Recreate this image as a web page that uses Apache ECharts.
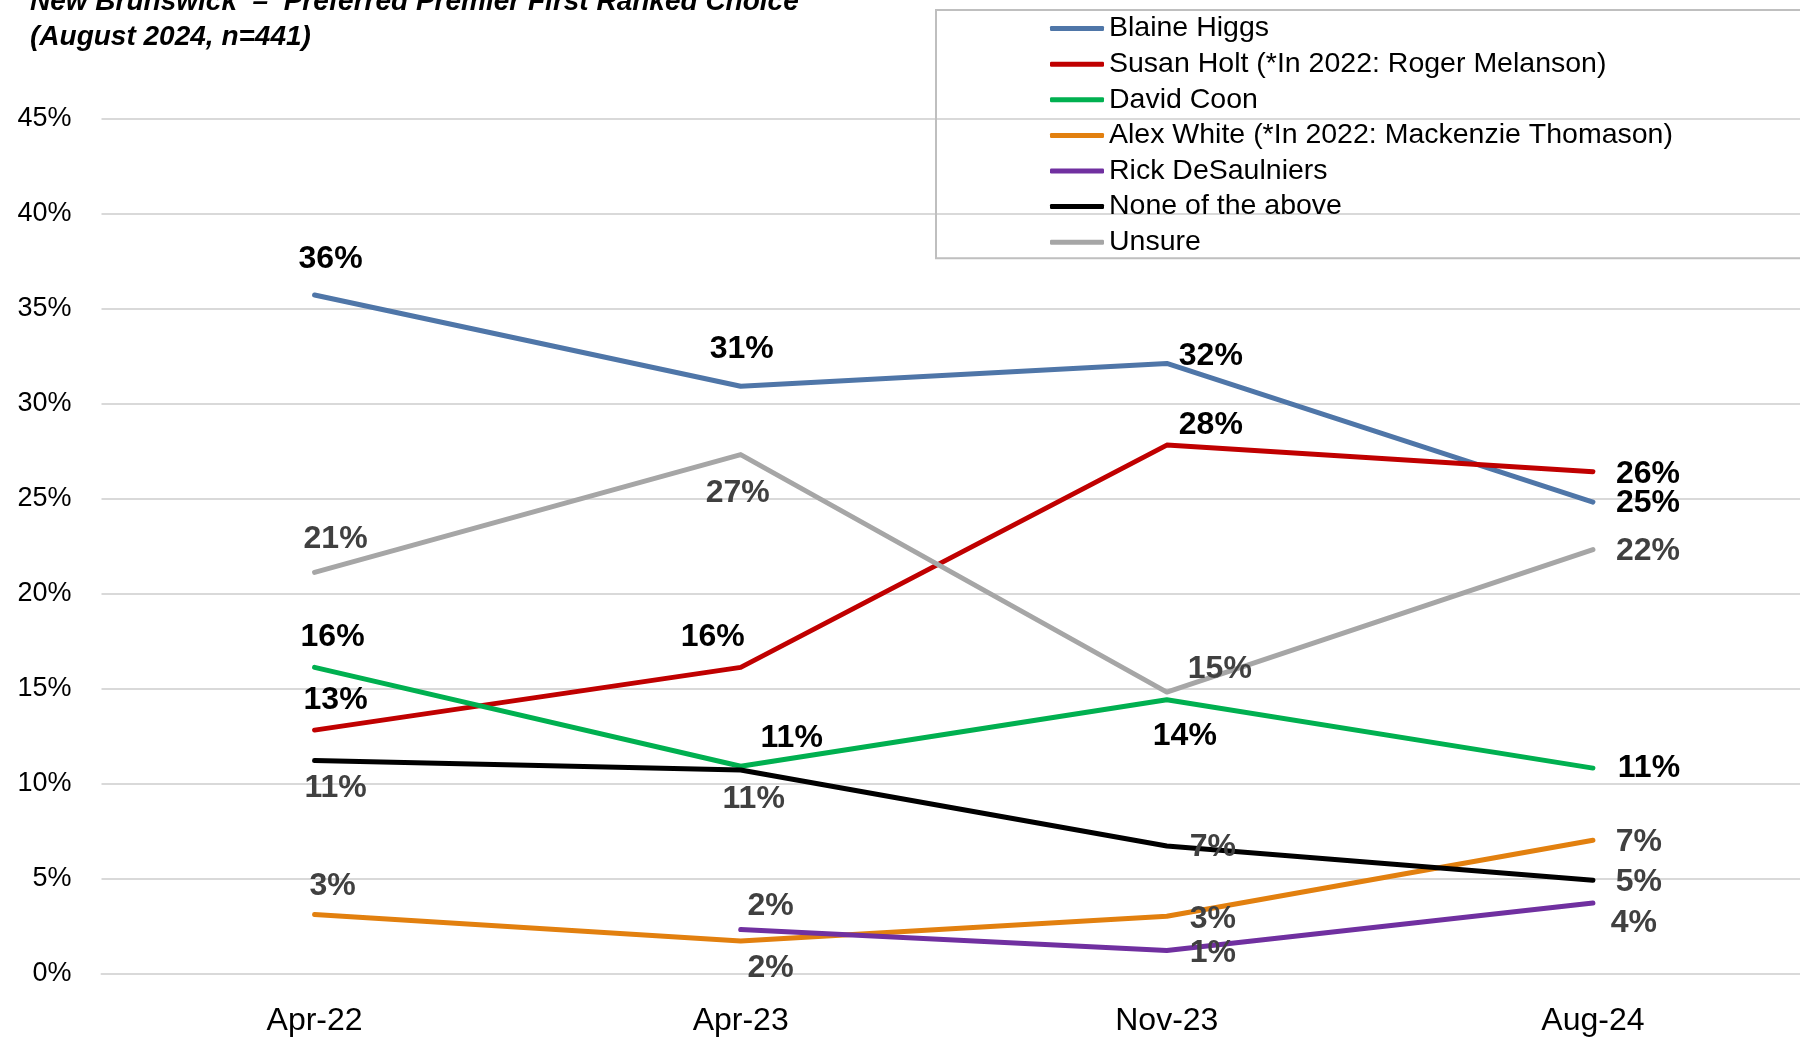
<!DOCTYPE html>
<html>
<head>
<meta charset="utf-8">
<script src="https://cdn.jsdelivr.net/npm/echarts@6/dist/echarts.min.js"></script>
<style>
html, body { margin: 0; padding: 0; background: #fff; }
#container { width: 1800px; height: 1039px; }
</style>
</head>
<body>
<div id="container"></div>
<script>
// survey waves
var categories = ['Apr-22', 'Apr-23', 'Nov-23', 'Aug-24'];

// first ranked choice, % of respondents
var higgs       = [35.7, 30.9, 32.1, 24.8];
var holt        = [12.8, 16.1, 27.8, 26.4];
var coon        = [16.1, 10.9, 14.4, 10.8];
var white       = [3.1, 1.7, 3.0, 7.0];
var desaulniers = [null, 2.3, 1.2, 3.7];
var noneAbove   = [11.2, 10.7, 6.7, 4.9];
var unsure      = [21.1, 27.3, 14.8, 22.3];

var seriesNames = [
    'Blaine Higgs',
    'Susan Holt (*In 2022: Roger Melanson)',
    'David Coon',
    'Alex White (*In 2022: Mackenzie Thomason)',
    'Rick DeSaulniers',
    'None of the above',
    'Unsure'
];
var seriesValues = [higgs, holt, coon, white, desaulniers, noneAbove, unsure];

// styling
var colors = ['#4F76A8', '#C00000', '#00B050', '#E2800F', '#7030A0', '#000000', '#A6A6A6'];
var labelColors = ['#000', '#000', '#000', '#404040', '#404040', '#404040', '#404040'];
// where each data label sits relative to its point (px)
var labelOffsets = [
    [[16, -36], [1, -37], [44, -7], [55, 1]],
    [[21, -30], [-28, -30], [44, -20], [55, 2]],
    [[18, -30], [51, -28], [18, 36], [56, 0]],
    [[18, -28], [30, 27], [46, 3], [46, 2]],
    [[0, 0], [30, -23], [46, 3], [41, 20]],
    [[21, 28], [13, 29], [46, 1], [46, 2]],
    [[21, -33], [-3, 39], [53, -23], [55, 2]]
];

var FONT = 'Liberation Sans';

var dom = document.getElementById('container');
var myChart = echarts.init(dom, null, {renderer: 'canvas'});

var series = [];
for (var s = 0; s < seriesValues.length; s++) {
    var vals = seriesValues[s];
    var data = [];
    for (var i = 0; i < vals.length; i++) {
        if (vals[i] == null) {
            data.push(null);
        } else {
            data.push({value: vals[i], label: {offset: labelOffsets[s][i]}});
        }
    }
    series.push({
        name: seriesNames[s],
        type: 'line',
        data: data,
        symbol: 'circle',
        symbolSize: 1,
        showSymbol: true,
        color: colors[s],
        lineStyle: {width: 5, color: colors[s], cap: 'round', join: 'round'},
        itemStyle: {color: colors[s]},
        label: {
            show: true,
            position: 'inside',
            formatter: function (p) { return Math.round(p.value) + '%'; },
            color: labelColors[s],
            fontFamily: FONT,
            fontWeight: 'bold',
            fontSize: 32
        },
        emphasis: {disabled: true}
    });
}

myChart.setOption({
    animation: false,
    backgroundColor: '#fff',
    title: {
        text: 'New Brunswick  \u2013  Preferred Premier First Ranked Choice\n(August 2024, n=441)',
        left: 25,
        top: -20,
        textStyle: {
            fontFamily: FONT,
            fontSize: 28,
            fontWeight: 'bold',
            fontStyle: 'italic',
            color: '#000',
            lineHeight: 35
        }
    },
    legend: {
        orient: 'vertical',
        left: 936,
        top: 10,
        padding: [3.6, 250, 1, 114],
        itemWidth: 54,
        itemHeight: 5,
        itemGap: 5.6,
        icon: 'roundRect',
        selectedMode: false,
        borderColor: '#BFBFBF',
        borderWidth: 2,
        textStyle: {fontFamily: FONT, fontSize: 28.5, color: '#000', lineHeight: 30},
        data: seriesNames
    },
    grid: {
        left: 101.5,
        right: -6,
        top: 118.3,
        bottom: 65.7,
        containLabel: false,
        outerBoundsMode: 'none'
    },
    xAxis: {
        type: 'category',
        data: categories,
        boundaryGap: true,
        axisLine: {show: true, lineStyle: {color: '#D9D9D9', width: 2}},
        axisTick: {show: false},
        axisLabel: {fontFamily: FONT, fontSize: 32, color: '#000', margin: 32}
    },
    yAxis: {
        type: 'value',
        min: 0,
        max: 45,
        interval: 5,
        axisLine: {show: false},
        axisTick: {show: false},
        splitLine: {lineStyle: {color: '#D9D9D9', width: 2}},
        axisLabel: {
            fontFamily: FONT,
            fontSize: 27,
            color: '#000',
            margin: 30,
            formatter: '{value}%'
        }
    },
    series: series
});
</script>
</body>
</html>
